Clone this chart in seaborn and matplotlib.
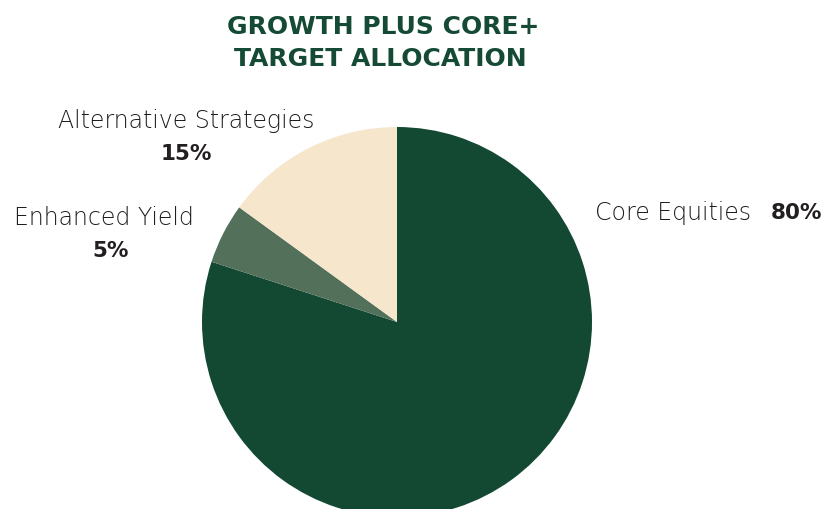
import numpy as np
import matplotlib
matplotlib.use("Agg")
from matplotlib import pyplot as plt
import seaborn as sns

# Data
categories = ["Core Equities", "Enhanced Yield", "Alternative Strategies"]
shares = [80, 5, 15]
slice_colors = ["#134833", "#53705B", "#F6E6CB"]
title_lines = ["GROWTH PLUS CORE+", "TARGET ALLOCATION"]

sns.set_theme(style="white")
plt.rcParams["font.family"] = ["DejaVu Sans"]

W, H = 824, 509
fig = plt.figure(figsize=(W / 100, H / 100), dpi=100)

# pie axes: centre (397, 322) px from top-left, radius 195 px
cx, cy, r = 397, 322, 195
ax = fig.add_axes([(cx - r) / W, (H - cy - r) / H, 2 * r / W, 2 * r / H])
ax.pie(shares, colors=slice_colors, startangle=90, counterclock=False,
       wedgeprops=dict(linewidth=0))
ax.set_xlim(-1, 1)
ax.set_ylim(-1, 1)
ax.set_aspect("equal")
ax.axis("off")


def px(x, y):
    return x / W, 1 - y / H


title_color = "#154A35"
fig.text(*px(383, 27), title_lines[0], ha="center", va="center",
         fontsize=18, fontweight="bold", color=title_color)
fig.text(*px(380, 59), title_lines[1], ha="center", va="center",
         fontsize=18, fontweight="bold", color=title_color)

label_color = "#1e1e1e"
pct_color = "#231F20"
fs = 17
pfs = 15.5

# Alternative Strategies
fig.text(*px(186, 121), categories[2], ha="center", va="center",
         fontsize=fs, fontweight="light", color=label_color)
fig.text(*px(186, 154), f"{shares[2]}%", ha="center", va="center",
         fontsize=pfs, fontweight="bold", color=pct_color)

# Enhanced Yield
fig.text(*px(104, 218), categories[1], ha="center", va="center",
         fontsize=fs, fontweight="light", color=label_color)
fig.text(*px(111, 251), f"{shares[1]}%", ha="center", va="center",
         fontsize=pfs, fontweight="bold", color=pct_color)

# Core Equities
fig.text(*px(595, 213), categories[0], ha="left", va="center",
         fontsize=fs, fontweight="light", color=label_color)
fig.text(*px(822, 213), f"{shares[0]}%", ha="right", va="center",
         fontsize=pfs, fontweight="bold", color=pct_color)

fig.savefig("out.png", dpi=100)
